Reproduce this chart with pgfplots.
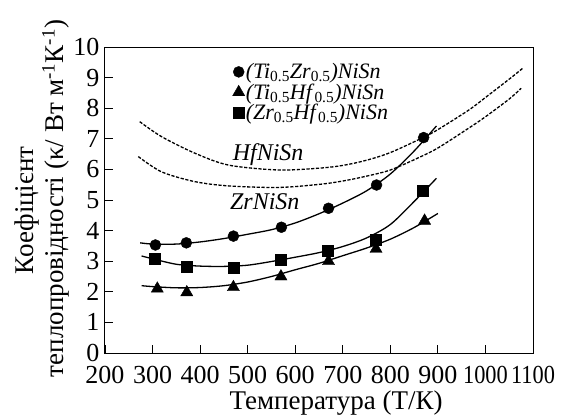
\documentclass[border=0pt]{standalone}
\usepackage{fontspec}
\setmainfont{Liberation Serif}
\usepackage{pgfplots}
\pgfplotsset{compat=1.18}

\begin{document}
\begin{tikzpicture}
\begin{axis}[
  at={(0,0)}, anchor=south west,
  scale only axis, width=428pt, height=306pt,
  xmin=200, xmax=1100, ymin=0, ymax=10,
  xtick={200,300,...,1100}, ytick={0,1,...,10},
  xticklabels={200,300,400,500,600,700,800,900,\scalebox{0.86}[1]{1000},\scalebox{0.86}[1]{1100}},
  tick align=inside, xtick pos=bottom, ytick pos=left,
  major tick length=8pt,
  axis line style={line width=1pt},
  tick style={line width=0.8pt, black},
  /pgf/number format/assume math mode=true,
  /pgf/number format/1000 sep={},
  ticklabel style={font=\fontsize{26}{26}\selectfont},
  yticklabel style={inner sep=0pt, xshift=-5.5pt},
  xticklabel style={inner sep=0pt, yshift=-13pt},
  xlabel={Температура (Т/К)},
  xlabel style={font=\fontsize{27}{27}\selectfont, at={(axis description cs:0.54,-0.163)}, anchor=center},
  ylabel={Коефіцієнт\hspace*{24pt}\\теплопровідності (κ/ Вт м\textsuperscript{-1}К\textsuperscript{-1})},
  ylabel style={font=\fontsize{27}{30}\selectfont, align=center, at={(axis description cs:-0.147,0.505)}, anchor=center},
  legend image code/.code={\draw[mark repeat=1,#1] plot coordinates {(0pt,0pt)};},
  legend style={draw=none, fill=none, at={(axis cs:468,9.5)}, anchor=north west,
    font=\fontsize{22}{22}\selectfont, inner sep=0pt, row sep=1.5pt,
    nodes={inner sep=1pt}},
  legend cell align=left,
]
% HfNiSn, ZrNiSn
\addplot[black, line width=1.3pt, dash pattern=on 3.2pt off 1.6pt, smooth, forget plot] coordinates {
(273,7.56)(319,7.07)(389,6.53)(460,6.14)(565,5.98)(650,6.04)(700,6.13)(750,6.3)(800,6.55)(866,7.02)(900,7.3)(965,7.94)(1000,8.35)(1050,8.95)(1078,9.3)};
\addplot[black, line width=1.3pt, dash pattern=on 3.2pt off 1.6pt, smooth, forget plot] coordinates {
(270,6.42)(319,5.92)(389,5.6)(460,5.46)(565,5.41)(650,5.51)(700,5.62)(750,5.78)(800,5.98)(859,6.38)(900,6.7)(964,7.34)(1000,7.72)(1050,8.3)(1075,8.65)};
% fitted curves
\addplot[black, line width=1.3pt, smooth, forget plot] coordinates {
(274,3.6)(300,3.56)(350,3.56)(400,3.63)(450,3.74)(500,3.88)(550,4.03)(600,4.25)(650,4.55)(700,4.9)(750,5.3)(800,5.85)(850,6.6)(897,7.42)};
\addplot[black, line width=1.3pt, smooth, forget plot] coordinates {
(277,3.17)(300,3.08)(350,2.9)(400,2.84)(450,2.83)(500,2.87)(550,2.99)(600,3.13)(650,3.28)(700,3.48)(750,3.76)(800,4.2)(850,4.95)(897,5.71)};
\addplot[black, line width=1.3pt, smooth, forget plot] coordinates {
(277,2.2)(300,2.17)(350,2.13)(400,2.14)(450,2.2)(500,2.32)(550,2.5)(600,2.72)(650,2.93)(700,3.18)(750,3.43)(800,3.72)(850,4.1)(900,4.56)};
% measured points
\addplot[only marks, mark=*, mark size=5.5pt, black] coordinates {
(306,3.53)(371,3.6)(470,3.82)(571,4.11)(670,4.73)(771,5.49)(870,7.04)};
\addlegendentry{\textit{(Ti}\textsubscript{0.5}\textit{Zr}\textsubscript{0.5}\textit{)NiSn}}
\addplot[only marks, mark=triangle*, mark size=7pt, black] coordinates {
(310,2.1)(372,1.98)(470,2.15)(570,2.5)(670,3.0)(770,3.4)(872,4.32)};
\addlegendentry{\textit{(Ti}\textsubscript{0.5}\textit{Hf}\textsubscript{0.5}\textit{)NiSn}}
\addplot[only marks, mark=square*, mark size=5.5pt, black] coordinates {
(304,3.09)(371,2.82)(470,2.8)(570,3.06)(668,3.34)(770,3.69)(869,5.3)};
\addlegendentry{\textit{(Zr}\textsubscript{0.5}\textit{Hf}\textsubscript{0.5}\textit{)NiSn}}
\node[font=\fontsize{24}{24}\selectfont\itshape] at (axis cs:543,6.47) {HfNiSn};
\node[font=\fontsize{24}{24}\selectfont\itshape] at (axis cs:536,4.94) {ZrNiSn};
\end{axis}
\pgfresetboundingbox
\path[use as bounding box] (-105pt,-63pt) rectangle (470pt,353pt);
\end{tikzpicture}
\end{document}
